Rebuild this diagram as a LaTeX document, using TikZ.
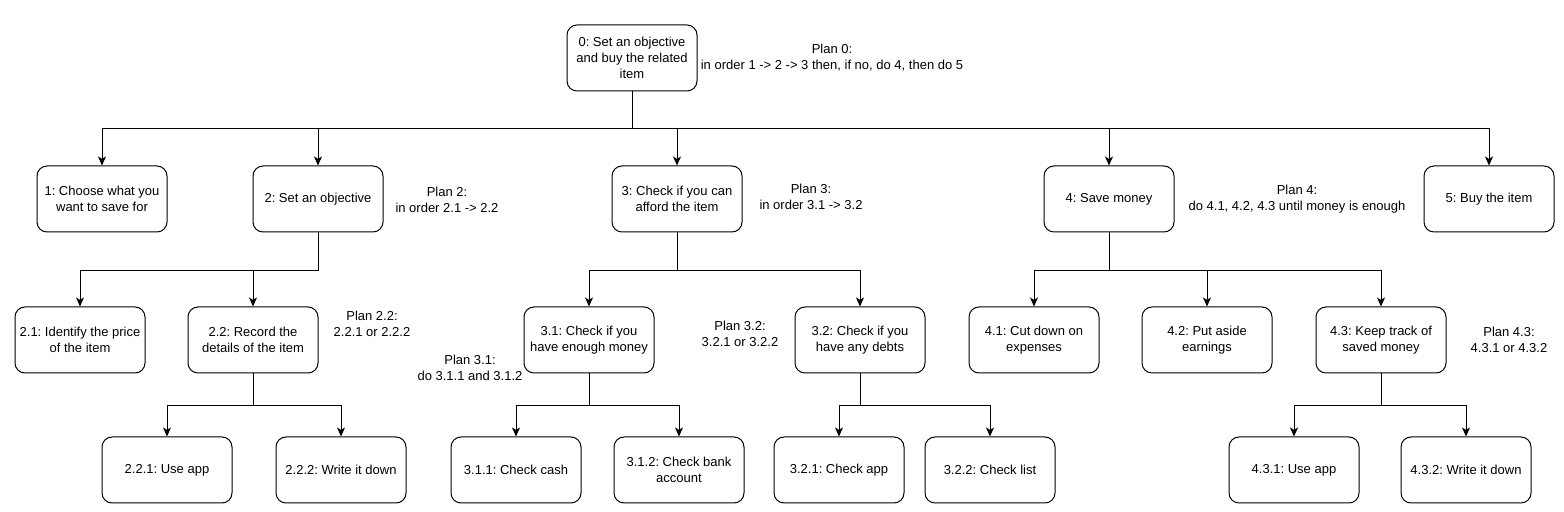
\documentclass[tikz,border=0pt]{standalone}
\usepackage{fontspec}
\setmainfont{Liberation Sans}
\usetikzlibrary{arrows.meta,positioning}
\frenchspacing

\begin{document}
\begin{tikzpicture}
   [x=0.5pt,y=-0.5pt,
    task/.style={rectangle,draw,rounded corners=5pt,line width=0.5pt,
     minimum width=65pt,minimum height=33pt,align=center,inner sep=2pt,
     font=\fontsize{6.5}{8}\selectfont},
    plan/.style={align=center,inner sep=0pt,font=\fontsize{6.5}{8}\selectfont},
    link/.style={-{Stealth[length=4.5pt,width=4pt,inset=1.2pt]},line width=0.5pt}]

\useasboundingbox (0,0) rectangle (1564,512);

% top goal
\node [task] (t0) at (632,58) {0: Set an objective\\and buy the related\\item};
\node [plan] (p0) at (832,58) {Plan 0:\\in order 1 -> 2 -> 3 then, if no, do 4, then do 5};

% level 1
\node [task] (t1) at (102,199) {1: Choose what you\\want to save for};
\node [task] (t2) at (318,199) {2: Set an objective};
\node [task] (t3) at (677,199) {3: Check if you can\\afford the item};
\node [task] (t4) at (1109,199) {4: Save money};
\node [task] (t5) at (1489,199) {5: Buy the item};
\node [plan] (p2) at (447,200) {Plan 2:\\in order 2.1 -> 2.2};
\node [plan] (p3) at (811,197) {Plan 3:\\in order 3.1 -> 3.2};
\node [plan] (p4) at (1297,199) {Plan 4:\\do 4.1, 4.2, 4.3 until money is enough};

% level 2
\node [task] (t21) at (80,340) {2.1: Identify the price\\of the item};
\node [task] (t22) at (253,340) {2.2: Record the\\details of the item};
\node [task] (t31) at (589,340) {3.1: Check if you\\have enough money};
\node [task] (t32) at (860,340) {3.2: Check if you\\have any debts};
\node [task] (t41) at (1034,340) {4.1: Cut down on\\expenses};
\node [task] (t42) at (1207,340) {4.2: Put aside\\earnings};
\node [task] (t43) at (1381,340) {4.3: Keep track of\\saved money};
\node [plan] (p22) at (372,324) {Plan 2.2:\\2.2.1 or 2.2.2};
\node [plan] (p31) at (470,368) {Plan 3.1:\\do 3.1.1 and 3.1.2};
\node [plan] (p32) at (740,334) {Plan 3.2:\\3.2.1 or 3.2.2};
\node [plan] (p43) at (1509,340) {Plan 4.3:\\4.3.1 or 4.3.2};

% level 3
\node [task] (t221) at (167,470) {2.2.1: Use app};
\node [task] (t222) at (341,470) {2.2.2: Write it down};
\node [task] (t311) at (516,470) {3.1.1: Check cash};
\node [task] (t312) at (679,470) {3.1.2: Check bank\\account};
\node [task] (t321) at (839,470) {3.2.1: Check app};
\node [task] (t322) at (990,470) {3.2.2: Check list};
\node [task] (t431) at (1294,470) {4.3.1: Use app};
\node [task] (t432) at (1466,470) {4.3.2: Write it down};

% connectors
\foreach \c in {t1,t2,t3,t4,t5}
  \draw [link] (t0.south) -- ++(0,37) -| (\c.north);
\foreach \c in {t21,t22}
  \draw [link] (t2.south) -- ++(0,38) -| (\c.north);
\foreach \c in {t31,t32}
  \draw [link] (t3.south) -- ++(0,38) -| (\c.north);
\foreach \c in {t41,t42,t43}
  \draw [link] (t4.south) -- ++(0,38) -| (\c.north);
\foreach \c in {t221,t222}
  \draw [link] (t22.south) -- ++(0,32) -| (\c.north);
\foreach \c in {t311,t312}
  \draw [link] (t31.south) -- ++(0,32) -| (\c.north);
\foreach \c in {t321,t322}
  \draw [link] (t32.south) -- ++(0,32) -| (\c.north);
\foreach \c in {t431,t432}
  \draw [link] (t43.south) -- ++(0,32) -| (\c.north);
\end{tikzpicture}
\end{document}
